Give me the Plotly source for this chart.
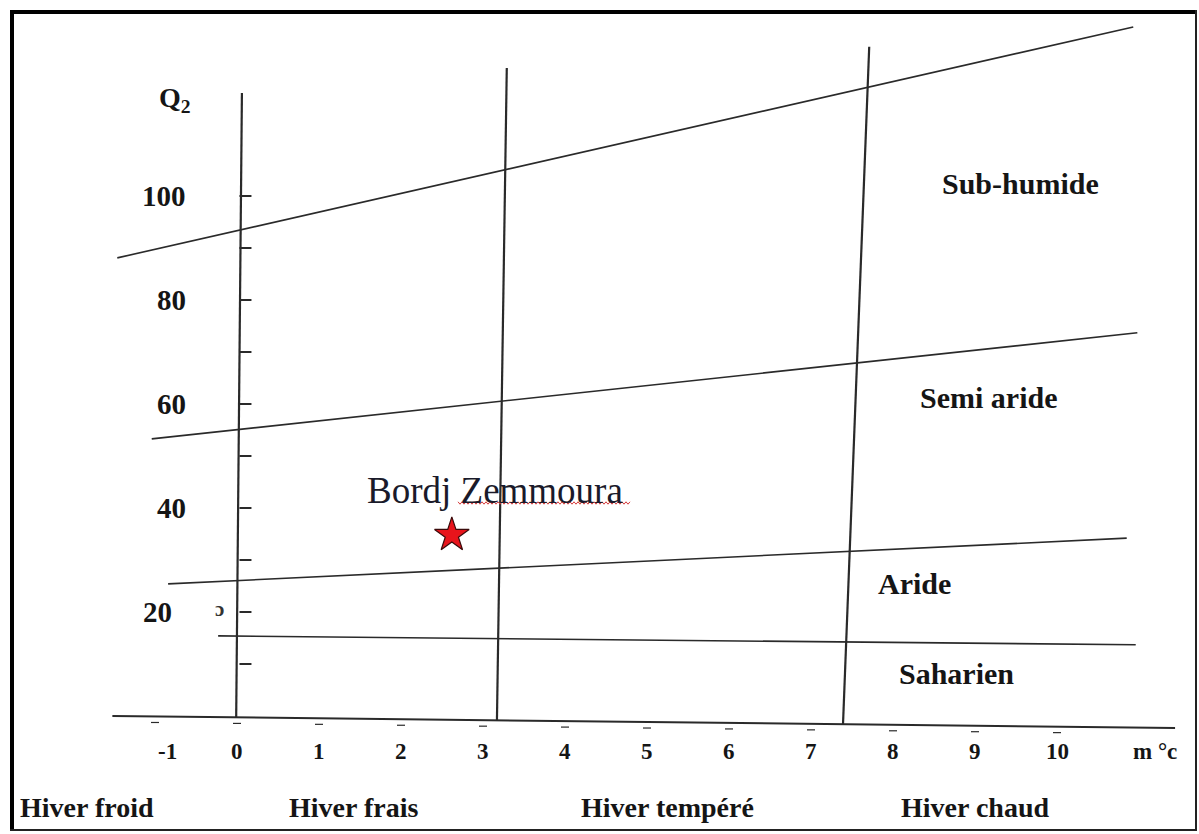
import plotly.graph_objects as go
import numpy as np

# ---------------- data ----------------
# Emberger climagram boundaries: (m °C, Q2) endpoints
line_subhumide_x = [-1.46, 10.93]
line_subhumide_y = [88.1, 132.5]
line_semiaride_x = [-1.04, 10.98]
line_semiaride_y = [53.3, 73.7]
line_aride_x = [-0.84, 10.85]
line_aride_y = [25.4, 34.2]
line_saharien_x = [-0.23, 10.96]
line_saharien_y = [15.4, 13.7]

# axes as drawn (hand drawn, slightly tilted)
axis_x_x = [-1.52, 11.44]
axis_x_y = [0.0, -2.3]
axis_y_x = [0.06, -0.01]
axis_y_y = [119.8, -0.4]

# winter-variant separators (m = 3 and m = 7)
vline3_x = [3.29, 3.17]
vline3_y = [124.6, -0.8]
vline7_x = [7.71, 7.39]
vline7_y = [128.7, -1.7]

# station
station_name = "Bordj Zemmoura"
station_m = [2.62]
station_q2 = [34.8]

# ticks
y_tick_vals = [100, 80, 60, 40, 20]
y_tick_text = ["100", "80", "60", "40", "20"]
y_minor_ticks = [100, 90, 80, 70, 60, 50, 40, 30, 20, 10]
x_tick_vals = [-1, 0, 1, 2, 3, 4, 5, 6, 7, 8, 9, 10]
x_tick_text = ["-1", "0", "1", "2", "3", "4", "5", "6", "7", "8", "9", "10"]

zone_names = ["Sub-humide", "Semi aride", "Aride", "Saharien"]
zone_x = [9.55, 9.17, 8.26, 8.77]
zone_y = [102.5, 61.2, 25.4, 8.1]

winter_names = ["Hiver froid", "Hiver frais", "Hiver tempéré", "Hiver chaud"]
winter_x = [-2.67, 1.42, 5.25, 9.0]

# ---------------- figure ----------------
W, H = 1199, 834
X0, SX = 237.0, 82.0   # pixel of m=0, px per °C
Y0, SY = 716.0, 5.2    # pixel of Q2=0, px per unit

xr = [-X0 / SX, (W - X0) / SX]
yr = [-(H - Y0) / SY, Y0 / SY]

SERIF = "Liberation Serif"
ink = "#2a2a2a"
txt = "#151515"

fig = go.Figure()

def add_line(xs, ys, width=1.6, color=ink):
    fig.add_trace(go.Scatter(x=xs, y=ys, mode="lines",
                             line=dict(color=color, width=width),
                             hoverinfo="skip", showlegend=False))

add_line(line_subhumide_x, line_subhumide_y)
add_line(line_semiaride_x, line_semiaride_y)
add_line(line_aride_x, line_aride_y)
add_line(line_saharien_x, line_saharien_y)
add_line(axis_x_x, axis_x_y, width=2.0)
add_line(axis_y_x, axis_y_y, width=2.2)
add_line(vline3_x, vline3_y, width=2.2)
add_line(vline7_x, vline7_y, width=2.2)

# y-axis tick marks (to the right of the axis)
for v in y_minor_ticks:
    fig.add_shape(type="line", xref="x", yref="y",
                  x0=0.03, x1=0.03 + 12 / SX, y0=v, y1=v,
                  line=dict(color=ink, width=2))
# small x-axis marks
for v in x_tick_vals:
    yy = -(v - axis_x_x[0]) * 2.3 / (axis_x_x[1] - axis_x_x[0])
    fig.add_shape(type="line", xref="x", yref="y",
                  x0=v - 4 / SX, x1=v + 4 / SX, y0=yy - 6 / SY, y1=yy - 6 / SY,
                  line=dict(color=ink, width=1.2))

# station star
fig.add_trace(go.Scatter(x=station_m, y=station_q2, mode="markers",
                         marker=dict(symbol="star", size=26, color="#e8141b",
                                     line=dict(color="#3a0a0a", width=1.2)),
                         hoverinfo="skip", showlegend=False))
fig.add_annotation(x=3.15, y=43.3, xref="x", yref="y", text=station_name,
                   showarrow=False, font=dict(family=SERIF, size=37, color="#1a1a2a"))
# red wavy spell-check underline under "Zemmoura"
zx = np.arange(458, 631, 2.0)
zy = 503 + np.where((np.arange(len(zx)) % 2) == 0, -1.2, 1.2)
path = "M " + " L ".join(f"{(a - X0) / SX:.4f},{(Y0 - b) / SY:.4f}" for a, b in zip(zx, zy))
fig.add_shape(type="path", xref="x", yref="y", path=path,
              line=dict(color="#d63a3a", width=1))

def b(t):
    return "<b>" + t + "</b>"

# y tick labels
for v, t in zip(y_tick_vals, y_tick_text):
    fig.add_annotation(x=-49 / SX, y=v, xref="x", yref="y", text=b(t), showarrow=False,
                       xanchor="right", xshift=(-14 if t == "20" else 0),
                       font=dict(family=SERIF, size=29, color=txt))
fig.add_annotation(x=-62 / SX, y=118.5, xref="x", yref="y", text=b("Q<sub>2</sub>"),
                   showarrow=False, font=dict(family=SERIF, size=28, color=txt))
fig.add_annotation(x=-18 / SX, y=20.5, xref="x", yref="y", text=b("ɔ"),
                   showarrow=False, font=dict(family=SERIF, size=21, color="#333"))

# x tick labels
for v, t in zip(x_tick_vals, x_tick_text):
    fig.add_annotation(x=v, y=-6.9, xref="x", yref="y", text=b(t), showarrow=False,
                       xshift=(12 if t == "-1" else 0),
                       font=dict(family=SERIF, size=23, color=txt))
fig.add_annotation(x=11.2, y=-6.9, xref="x", yref="y", text=b("m °c"), showarrow=False,
                   font=dict(family=SERIF, size=23, color=txt))

# zone labels
for t, x, y in zip(zone_names, zone_x, zone_y):
    fig.add_annotation(x=x, y=y, xref="x", yref="y", text=b(t), showarrow=False,
                       font=dict(family=SERIF, size=30, color=txt))

# winter labels
for i, (t, x) in enumerate(zip(winter_names, winter_x)):
    fig.add_annotation(x=x, y=-17.5, xref="x", yref="y", text=b(t), showarrow=False,
                       xanchor=("left" if i == 0 else "center"),
                       font=dict(family=SERIF, size=28, color=txt))

# frame
fig.add_shape(type="line", xref="paper", yref="paper", x0=12 / W, x1=1197 / W,
              y0=1 - 12 / H, y1=1 - 12 / H, line=dict(color="black", width=4))
fig.add_shape(type="line", xref="paper", yref="paper", x0=12 / W, x1=12 / W,
              y0=1 - 10 / H, y1=1 - 831 / H, line=dict(color="black", width=4))
fig.add_shape(type="line", xref="paper", yref="paper", x0=1196 / W, x1=1196 / W,
              y0=1 - 10 / H, y1=1 - 831 / H, line=dict(color="#222", width=2))
fig.add_shape(type="line", xref="paper", yref="paper", x0=10 / W, x1=1197 / W,
              y0=1 - 830 / H, y1=1 - 830 / H, line=dict(color="#222", width=2))

fig.update_layout(
    width=W, height=H,
    margin=dict(l=0, r=0, t=0, b=0),
    paper_bgcolor="white", plot_bgcolor="white",
    xaxis=dict(range=xr, visible=False, fixedrange=True),
    yaxis=dict(range=yr, visible=False, fixedrange=True),
    showlegend=False,
)

fig.write_html("out.html", config={"displayModeBar": False},
               post_script="document.body.style.margin='0';document.body.style.overflow='hidden';")
